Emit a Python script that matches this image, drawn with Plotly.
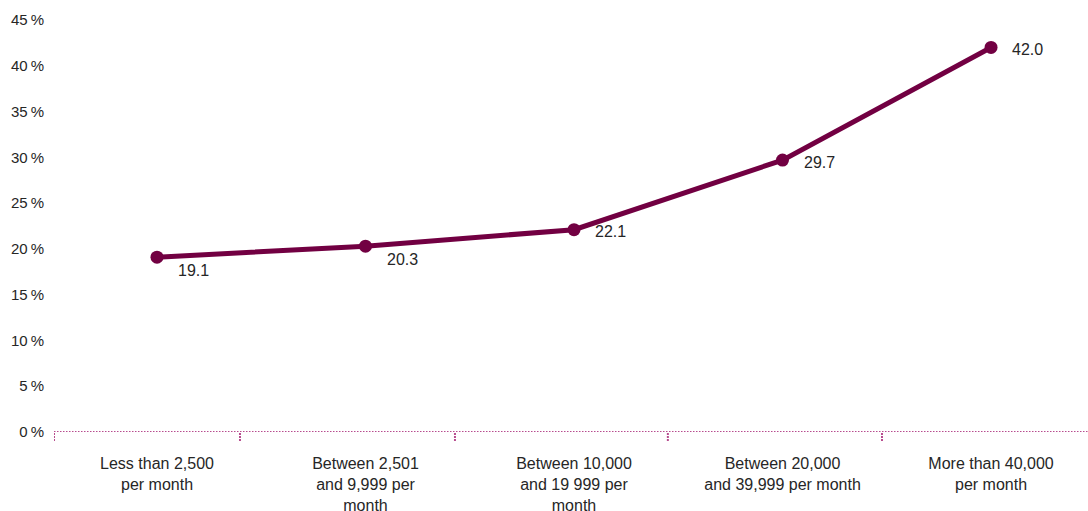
import plotly.graph_objects as go

# Share of respondents by monthly income band
categories = [
    "Less than 2,500<br>per month",
    "Between 2,501<br>and 9,999 per<br>month",
    "Between 10,000<br>and 19 999 per<br>month",
    "Between 20,000<br>and 39,999 per month",
    "More than 40,000<br>per month",
]
values = [19.1, 20.3, 22.1, 29.7, 42.0]
label_drop = [13, 13, 2, 2, 2]

y_ticks = [0, 5, 10, 15, 20, 25, 30, 35, 40, 45]
y_tick_text = [f"{v}\u2009%" for v in y_ticks]

# small dotted marks under the baseline
baseline_marks = [-0.494, 0.398, 1.429, 2.45, 3.477]

LINE = "#720042"
AXIS = "#a0126a"
TEXT = "#262626"
FONT = "Liberation Sans, Arial, sans-serif"

xi = list(range(len(categories)))

fig = go.Figure()
fig.add_trace(go.Scatter(
    x=xi, y=values, mode="lines+markers",
    line=dict(color=LINE, width=5),
    marker=dict(color=LINE, size=13),
    hoverinfo="skip", showlegend=False,
))

for i, v in enumerate(values):
    fig.add_annotation(
        x=i, y=v, text=f"{v:.1f}", showarrow=False,
        xanchor="left", yanchor="middle", xshift=19, yshift=-label_drop[i],
        font=dict(family=FONT, size=16, color=TEXT),
    )

fig.add_shape(type="line", xref="paper", yref="y", x0=0, x1=1, y0=0, y1=0,
              line=dict(color=AXIS, width=1.3, dash="1.5px,1.5px"), layer="below")
for m in baseline_marks:
    fig.add_shape(type="line", xref="x", yref="paper", x0=m, x1=m,
                  y0=-0.003, y1=-0.022,
                  line=dict(color=AXIS, width=2, dash="1.5px,1.5px"))

fig.update_layout(
    width=1088, height=511,
    margin=dict(l=54, r=0, t=20, b=79),
    paper_bgcolor="white", plot_bgcolor="white",
    font=dict(family=FONT, size=16, color=TEXT),
    xaxis=dict(
        tickmode="array", tickvals=xi, ticktext=categories,
        range=[-0.494, 4.465], showgrid=False, zeroline=False,
        showline=False, ticks="", ticklabelstandoff=20, automargin=False,
        tickfont=dict(size=16, color=TEXT),
    ),
    yaxis=dict(
        range=[0, 45], tickmode="array", tickvals=y_ticks, ticktext=y_tick_text,
        showgrid=False, zeroline=False, showline=False, ticks="",
        ticklabelstandoff=9, automargin=False, tickfont=dict(size=15, color=TEXT),
    ),
)

fig.write_html("out.html")
